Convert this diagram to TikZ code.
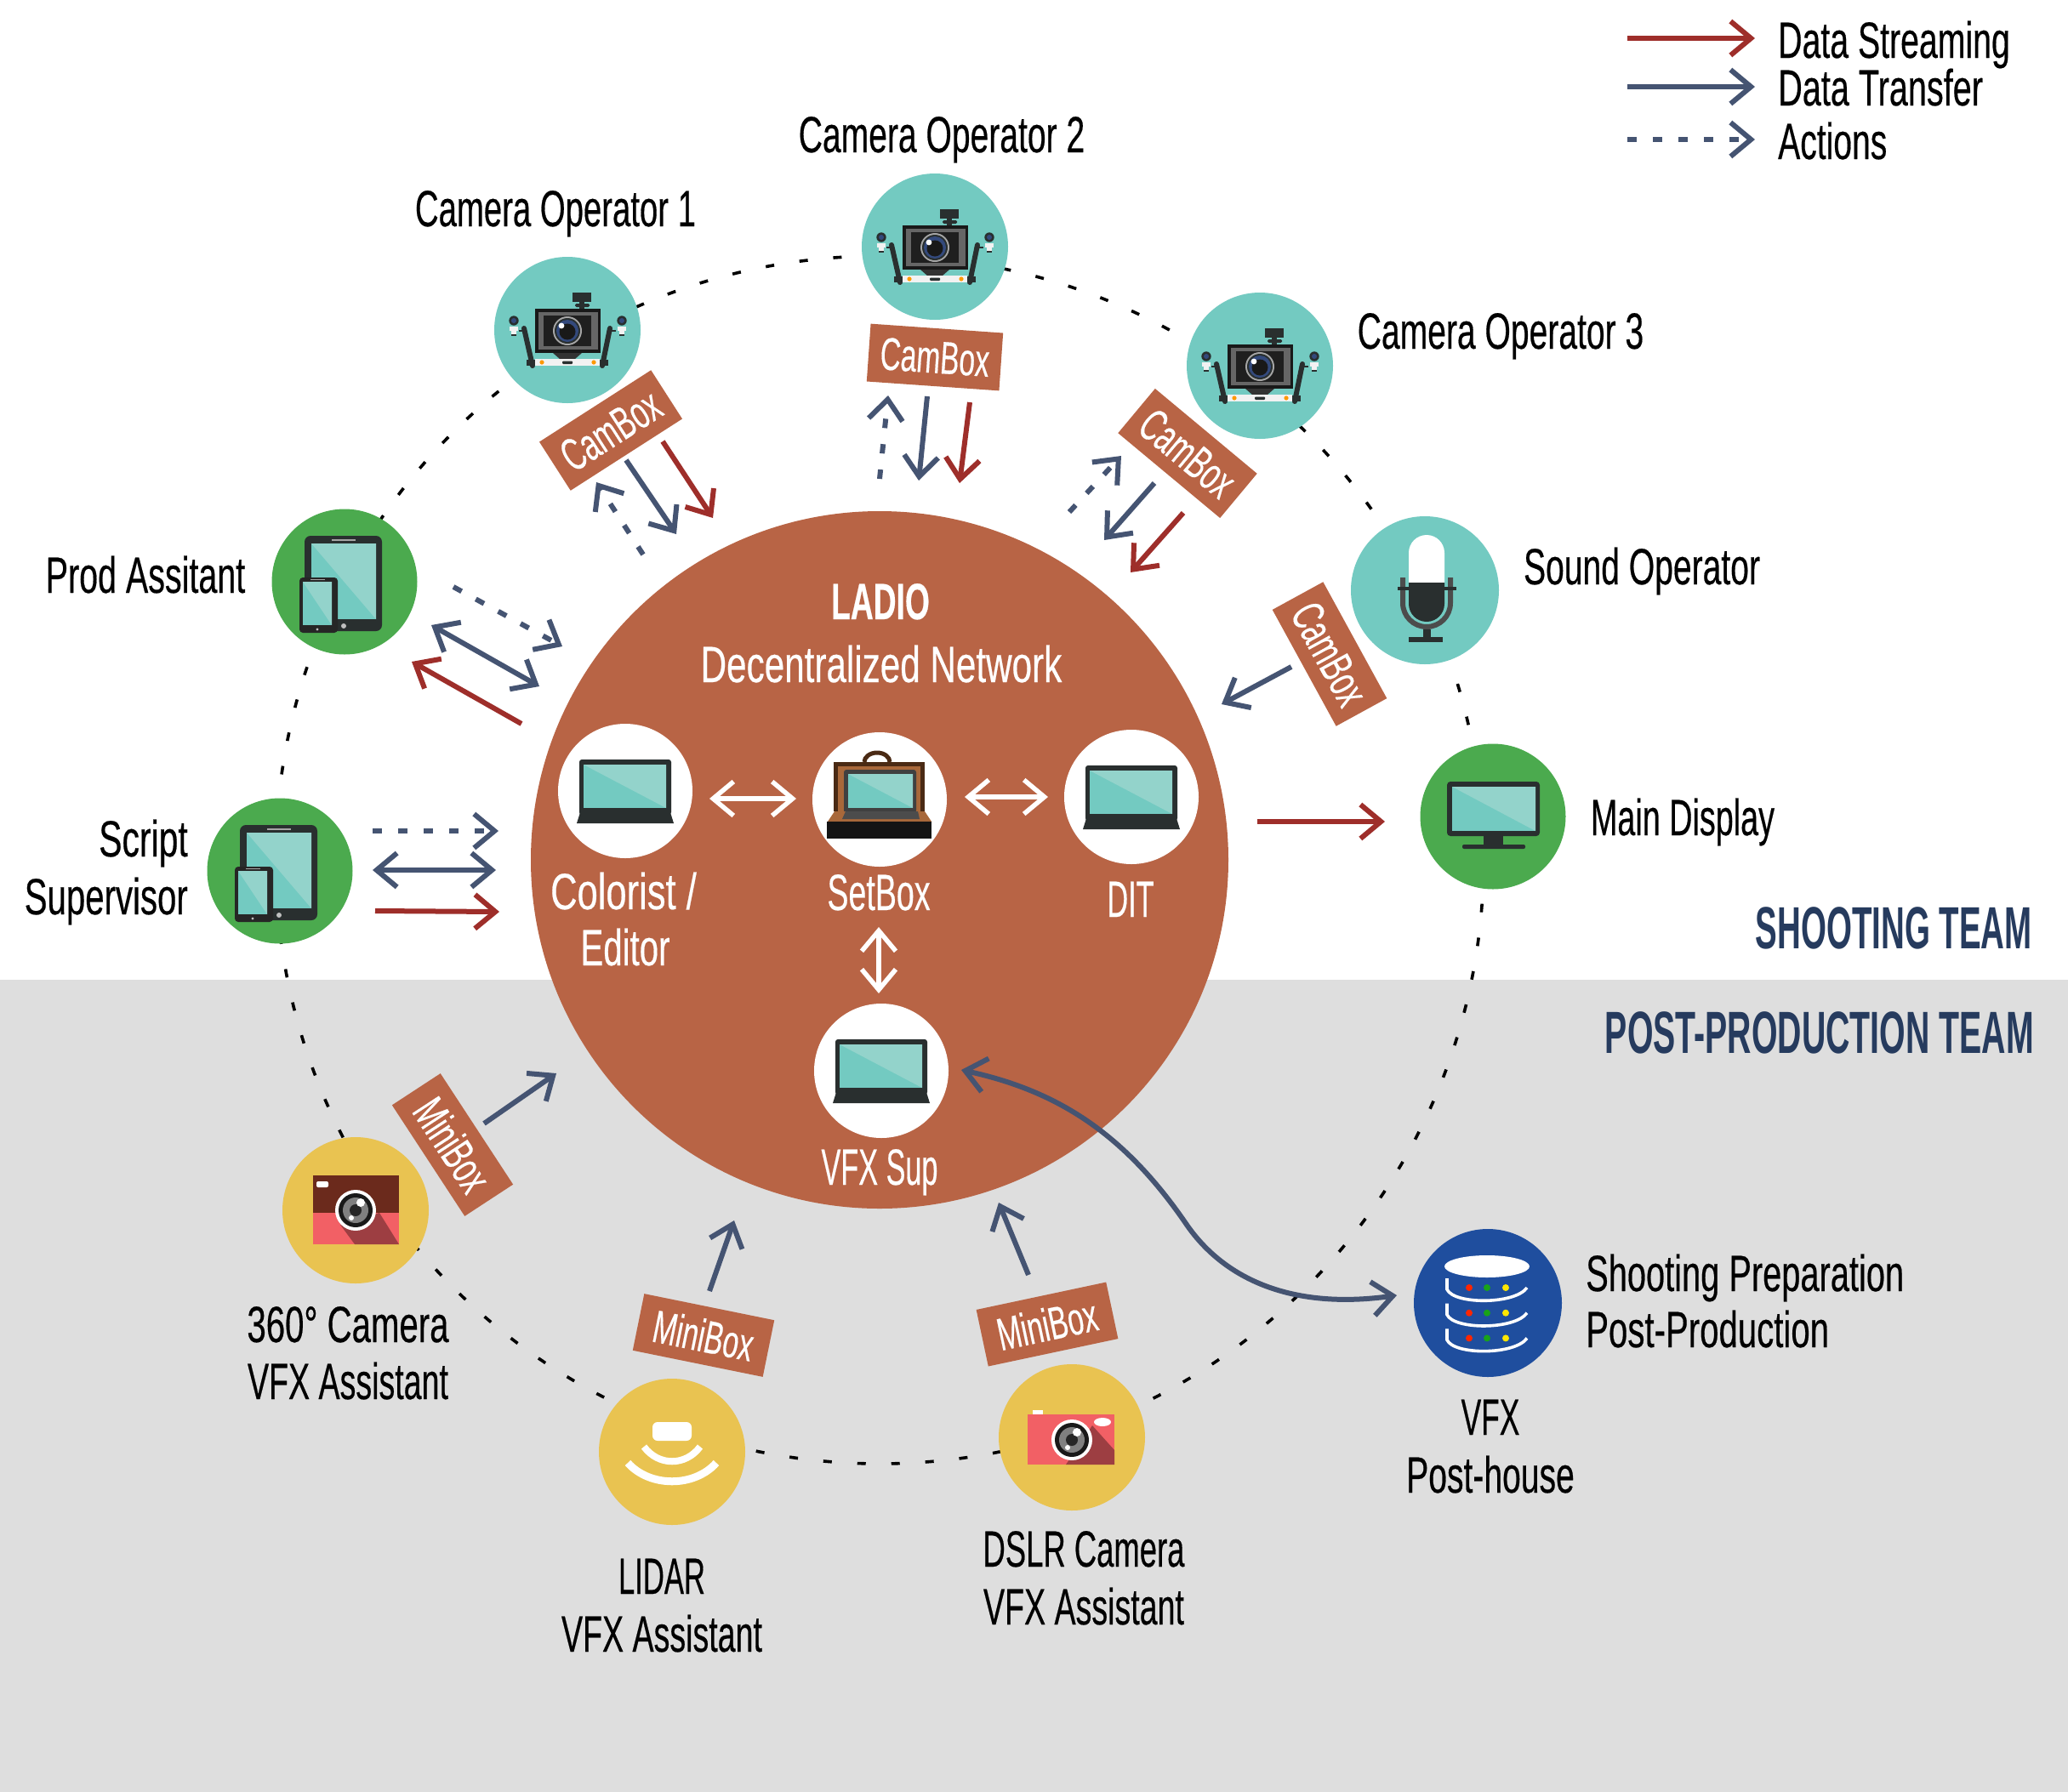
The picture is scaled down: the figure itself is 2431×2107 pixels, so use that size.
\documentclass[tikz,border=0pt]{standalone}
\usepackage{fontspec}
\usetikzlibrary{arrows.meta}
\newfontfamily\nf[FakeStretch=0.62,FakeBold=0.3]{Liberation Sans}
\newfontfamily\hf[FakeStretch=0.55]{Liberation Sans}
\newcommand{\sxx}[2]{\scalebox{#1}[1]{#2}}
\definecolor{terra}{HTML}{B86445}
\definecolor{band}{HTML}{DEDEDE}
\definecolor{tealc}{HTML}{73CAC1}
\definecolor{lite}{HTML}{93D3CB}
\definecolor{grn}{HTML}{4BAA4E}
\definecolor{yel}{HTML}{E9C351}
\definecolor{blu}{HTML}{1F4E9E}
\definecolor{ink}{HTML}{292F2F}
\definecolor{redl}{HTML}{9E2E2A}
\definecolor{bluel}{HTML}{455472}
\definecolor{head}{HTML}{263B5E}
\definecolor{pinkc}{HTML}{F26065}
\definecolor{maroon}{HTML}{6B2A1C}
\definecolor{lensb}{HTML}{33497C}
\definecolor{framec}{HTML}{4A2A14}
\definecolor{casec}{HTML}{A8683A}
\pgfdeclarelayer{under}
\pgfsetlayers{under,main}
\newcommand{\conn}[4]{\coordinate (#2s) at (#3); \coordinate (#2e) at (#4); \draw[#1] (#2s) -- (#2e);}
\tikzset{
  disc/.style={circle,inner sep=0pt,outer sep=0pt,minimum size=#1},
  lab/.style={font=\nf\fontsize{60}{60}\selectfont,inner sep=0pt,anchor=base,text=black},
  wlab/.style={lab,text=white},
  boxl/.style={fill=terra,text=white,font=\nf\fontsize{54}{54}\selectfont,minimum width=156pt,minimum height=68pt,inner sep=0pt,outer sep=0pt},
  ring/.style={line width=3.6pt,black,dash pattern=on 10pt off 30pt},
  stream/.style={line width=6pt,redl,->},
  trans/.style={line width=6pt,bluel,->},
  act/.style={line width=6pt,bluel,->,dash pattern=on 11pt off 19pt},
  both/.style={line width=6pt,bluel,<->},
  wboth/.style={line width=5.5pt,white,<->},
  pics/laptop/.style={code={
    \fill[ink,rounded corners=3pt] (-54,-37) rectangle (54,28);
    \fill[ink] (-52,22) -- (-57,38) -- (57,38) -- (52,22) -- cycle;
    \fill[tealc] (-49,-31) rectangle (48,20);
    \fill[lite] (-49,-31) -- (48,-31) -- (48,20) -- cycle;
  }},
  pics/tablet/.style={code={
    \fill[ink,rounded corners=7pt] (-47,-54) rectangle (44,58);
    \fill[tealc] (-39,-45) rectangle (37,44);
    \fill[lite] (-39,-45) -- (37,-45) -- (37,44) -- cycle;
    \fill[gray!70] (-15,-50) rectangle (13,-48);
    \fill[gray!50] (-1,52) circle[radius=3pt];
    \fill[black!85,rounded corners=4pt] (-53,-5) rectangle (-8,60);
    \fill[tealc] (-49,0) rectangle (-15,51);
    \fill[lite] (-49,0) -- (-15,0) -- (-15,51) -- cycle;
    \fill[gray!70] (-40,-3) rectangle (-23,-2);
    \fill[gray!50] (-32,56) circle[radius=1.7pt];
  }},
  pics/monitor/.style={code={
    \fill[ink,rounded corners=4pt] (-54,-41) rectangle (55,23);
    \fill[tealc] (-48,-35) rectangle (50,17);
    \fill[lite] (-48,-35) -- (50,-35) -- (50,17) -- cycle;
    \fill[ink] (-11,23) rectangle (12,34);
    \fill[ink,rounded corners=2pt] (-36,33) rectangle (38,38);
  }},
  pics/mic/.style={code={
    \fill[white] (-19,-9) -- (-19,-44) arc[start angle=180,end angle=0,radius=21pt] -- (23,-9) -- cycle;
    \fill[ink] (-19,-9) -- (23,-9) -- (23,16) arc[start angle=0,end angle=-180,radius=21pt] -- (-19,-9) -- cycle;
    \draw[line width=6pt,black!70] (-26,-15) -- (-26,15) arc[start angle=180,end angle=360,radius=28pt] -- (30,-15);
    \fill[ink] (-32,-4) rectangle (37,0);
    \fill[ink] (-2,46) rectangle (7,61);
    \fill[ink] (-19,55) rectangle (21,61);
  }},
  pics/rig/.style={code={
    \fill[ink] (6,-44) rectangle (28,-33);
    \fill[ink,rounded corners=1.5pt] (9,-31) rectangle (26,-27);
    \fill[ink] (14,-33) rectangle (20,-25);
    \draw[ink,line width=6pt,line cap=round] (-51,-2) -- (-41,42);
    \draw[ink,line width=6pt,line cap=round] (50,-2) -- (41,42);
    \fill[ink] (-57,0) rectangle (-50,2);
    \fill[ink] (50,0) rectangle (57,2);
    \fill[black!90] (-38,-25) rectangle (39,27);
    \fill[black!60] (-34,-21) rectangle (36,23);
    \fill[black!88] (-28,-17) rectangle (28,19);
    \fill[black!80] (-17,27) -- (17,27) -- (9,34) -- (-9,34) -- cycle;
    \fill[gray!70] (0,1) circle[radius=17pt];
    \fill[ink] (0,1) circle[radius=15pt];
    \fill[lensb] (0,1) circle[radius=13pt];
    \fill[black!90] (0,2) circle[radius=9.5pt];
    \fill[white] (-7,-5) circle[radius=3.4pt];
    \fill[gray!10] (-38,34) rectangle (38,42);
    \fill[orange!80!yellow] (-30,38) circle[radius=2.6pt];
    \fill[orange!80!yellow] (31,38) circle[radius=2.6pt];
    \fill[ink,rounded corners=1pt] (-6,36.5) rectangle (6,40);
    \fill[ink] (-48,35) rectangle (-38,42);
    \fill[ink] (38,35) rectangle (48,42);
    \foreach \sx in {-63,64}{
      \fill[ink] (\sx,-11) circle[radius=5.7pt];
      \fill[lensb] (\sx,-11) circle[radius=3pt];
      \fill[gray!10] (\sx-5,-4) rectangle (\sx+5,1);
      \fill[gray!10] (\sx-3,1) rectangle (\sx+3,5);
      \fill[ink] (\sx-3,5) rectangle (\sx+3,7);
    }
  }},
  pics/casebox/.style={code={
    \draw[framec,line width=5pt] (-18,-44) arc[start angle=180,end angle=0,x radius=15pt,y radius=11pt];
    \fill[framec] (-54,-44) rectangle (53,14);
    \fill[casec] (-49,-39) rectangle (48,14);
    \fill[black!75,rounded corners=3pt] (-42,-35) rectangle (43,16);
    \fill[tealc] (-37,-30) rectangle (39,10);
    \fill[lite] (-37,-30) -- (39,-30) -- (39,10) -- cycle;
    \fill[casec] (-53,14) -- (-61,26) -- (61,26) -- (53,14) -- cycle;
    \fill[black!70] (-40,14) -- (45,14) -- (47,23) -- (-44,23) -- cycle;
    \fill[black!92] (-62,26) rectangle (61,46);
  }},
  pics/lens/.style={code={
    \fill[white] (0,0) circle[radius=24pt];
    \fill[black!90] (0,0) circle[radius=20pt];
    \fill[gray] (0,0) circle[radius=15pt];
    \fill[black!85] (0,0) circle[radius=7pt];
    \fill[white] (6,-9) circle[radius=5pt];
    \fill[white] (-5,9) circle[radius=3pt];
  }},
  pics/cam360/.style={code={
    \fill[pinkc] (-50,-41) rectangle (51,40);
    \fill[maroon] (-50,-41) rectangle (51,3);
    \fill[pinkc!65!black] (28,3) -- (51,40) -- (-1,40) -- (-18,17) -- cycle;
    \fill[white,rounded corners=2pt] (-46,-34) rectangle (-32,-27);
    \pic at (0,0) {lens};
  }},
  pics/dslr/.style={code={
    \fill[pinkc] (-52,-27) rectangle (50,32);
    \fill[pinkc!65!black] (24,-14) -- (50,15) -- (50,32) -- (-7,32) -- cycle;
    \fill[white] (-46,-32) rectangle (-34,-27);
    \fill[white] (36,-18) circle[x radius=10pt,y radius=5pt];
    \pic at (0,3) {lens};
  }},
  pics/lidarw/.style={code={
    \fill[white,rounded corners=6pt] (-23,-35) rectangle (23,-13);
    \draw[white,line width=8pt] (-33,-6) .. controls (-16,17) and (16,17) .. (33,-6);
    \draw[white,line width=9pt] (-52,13) .. controls (-26,42) and (26,42) .. (52,13);
  }},
  pics/server/.style={code={
    \fill[white] (-1,-43) circle[x radius=50pt,y radius=13pt];
    \foreach \dy in {0,29.7,59.4}{
      \draw[white,line width=3.6pt] (-48,-29+\dy) -- (-48,-16+\dy) .. controls (-40,2+\dy) and (32,2+\dy) .. (46,-18+\dy);
      \fill[red!70!orange] (-22,-18+\dy) circle[radius=4pt];
      \fill[green!60!black!90] (-1,-18+\dy) circle[radius=4pt];
      \fill[yellow!90!orange] (21,-18+\dy) circle[radius=4pt];
    }
  }},
}
\begin{document}
\begin{tikzpicture}[x=1pt,y=-1pt,>={Straight Barb[length=24pt,width=40pt]}]
\useasboundingbox (0,0) rectangle (2431,2107);

% main disc and people
\node[disc=820pt,fill=terra] (net) at (1034,1011) {};
\node[disc=172pt,fill=tealc] (cam1) at (667,388) {};
\node[disc=172pt,fill=tealc] (cam2) at (1099,290) {};
\node[disc=172pt,fill=tealc] (cam3) at (1481,430) {};
\node[disc=174pt,fill=tealc] (sound) at (1675,694) {};
\node[disc=171pt,fill=grn] (disp) at (1755,960) {};
\node[disc=171pt,fill=grn] (prod) at (405,684) {};
\node[disc=171pt,fill=grn] (script) at (329,1024) {};
\node[disc=172pt,fill=yel] (c360) at (418,1423) {};
\node[disc=172pt,fill=yel] (lidar) at (790,1707) {};
\node[disc=172pt,fill=yel] (dslr) at (1260,1690) {};
\node[disc=174pt,fill=blu] (post) at (1749,1532) {};
\node[disc=158pt,fill=white] (color) at (735,930) {};
\node[disc=158pt,fill=white] (setbox) at (1034,940) {};
\node[disc=158pt,fill=white] (dit) at (1330,937) {};
\node[disc=158pt,fill=white] (vfx) at (1036,1259) {};

% background and dashed ring, beneath the discs
\begin{pgfonlayer}{under}
\fill[white] (0,0) rectangle (2431,2107);
\fill[band] (0,1152) rectangle (2431,2107);
\draw[ring] (net.center) circle[radius=710pt];
\end{pgfonlayer}

% icons
\pic at (cam1) {rig};
\pic at (cam2) {rig};
\pic at (cam3) {rig};
\pic at (sound) {mic};
\pic at (disp) {monitor};
\pic at (prod) {tablet};
\pic at (script) {tablet};
\pic at (c360) {cam360};
\pic at (lidar) {lidarw};
\pic at (dslr) {dslr};
\pic at (post) {server};
\pic at (color) {laptop};
\pic at (setbox) {casebox};
\pic at (dit) {laptop};
\pic at (vfx) {laptop};

% boxes
\node[boxl,rotate=32.7] (box1) at (718,506) {CamBox};
\node[boxl,rotate=-4] (box2) at (1099,420) {CamBox};
\node[boxl,rotate=-39.8] (box3) at (1396,533) {CamBox};
\node[boxl,rotate=-61.3] (box4) at (1563,769) {CamBox};
\node[boxl,rotate=-56.8] (mini1) at (532,1346) {MiniBox};
\node[boxl,rotate=-11.5] (mini2) at (827,1570) {MiniBox};
\node[boxl,rotate=12] (mini3) at (1231,1557) {MiniBox};

% arrows
\conn{stream}{a1}{779,519}{838,609}
\conn{trans}{a2}{736,541}{795,628}
\conn{act}{a3}{756,652}{701,567}
\conn{stream}{a4}{1140,473}{1128,568}
\conn{trans}{a5}{1090,466}{1080,565}
\conn{act}{a6}{1034,563}{1044,465}
\conn{act}{a7}{1257,602}{1318,536}
\conn{trans}{a8}{1357,568}{1298,635}
\conn{stream}{a9}{1391,603}{1329,673}
\conn{trans}{a10}{1518,784}{1436,828}
\conn{stream}{a11}{1478,966}{1628,966}
\conn{act}{a12}{533,690}{661,760}
\conn{both}{a13}{507,735}{634,807}
\conn{stream}{a14}{613,851}{484,778}
\conn{act}{a15}{438,977}{586,977}
\conn{both}{a16}{438,1023}{583,1023}
\conn{stream}{a17}{441,1071}{587,1072}
\conn{wboth}{a18}{834,939}{936,939}
\conn{wboth}{a19}{1134,937}{1232,937}
\conn{wboth}{a20}{1033,1090}{1033,1168}
\conn{trans}{a21}{569,1321}{654,1262}
\conn{trans}{a22}{834,1518}{863,1435}
\conn{trans}{a23}{1209,1499}{1174,1414}
\coordinate (cva) at (1130,1258);
\coordinate (cvb) at (1642,1523);
\draw[both] (cva) .. controls (1240,1282) and (1320,1330) .. (1395,1440) .. controls (1440,1505) and (1520,1540) .. (cvb);

% legend
\conn{stream}{l1}{1913,45}{2063,45}
\conn{trans}{l2}{1913,102}{2063,102}
\conn{act}{l3}{1913,164}{2063,164}
\node[lab,anchor=base west] (t1) at (2090,68) {\sxx{1.055}{Data Streaming}};
\node[lab,anchor=base west] (t2) at (2090,124) {\sxx{1.065}{Data Transfer}};
\node[lab,anchor=base west] (t3) at (2090,187) {\sxx{1.05}{Actions}};

% labels
\node[lab] (n1) at (653,266) {\sxx{1.03}{Camera Operator 1}};
\node[lab] (n2) at (1107,179) {\sxx{1.05}{Camera Operator 2}};
\node[lab] (n3) at (1764,410) {\sxx{1.05}{Camera Operator 3}};
\node[lab] (n4) at (1930,687) {\sxx{1.05}{Sound Operator}};
\node[lab] (n5) at (1978,982) {\sxx{1.015}{Main Display}};
\node[lab] (n6) at (171,697) {\sxx{1.06}{Prod Assitant}};
\node[lab,anchor=base east] (n7) at (221,1007) {\sxx{1.1}{Script}};
\node[lab,anchor=base east] (n8) at (221,1075) {\sxx{1.08}{Supervisor}};
\node[wlab] (n9) at (733,1069) {\sxx{1.17}{Colorist /}};
\node[wlab] (n10) at (735,1135) {\sxx{1.08}{Editor}};
\node[wlab] (n11) at (1033,1070) {\sxx{1.01}{SetBox}};
\node[wlab] (n12) at (1329,1078) {\sxx{0.92}{DIT}};
\node[wlab] (n13) at (1034,1393) {\sxx{0.92}{VFX Sup}};
\node[lab] (n14) at (409,1578) {\sxx{1.08}{360° Camera}};
\node[lab] (n15) at (409,1645) {\sxx{1.01}{VFX Assistant}};
\node[lab] (n16) at (778,1874) {\sxx{0.93}{LIDAR}};
\node[lab] (n17) at (778,1942) {\sxx{1.01}{VFX Assistant}};
\node[lab] (n18) at (1274,1842) {\sxx{0.98}{DSLR Camera}};
\node[lab] (n19) at (1274,1910) {\sxx{1.01}{VFX Assistant}};
\node[lab] (n20) at (1752,1687) {\sxx{0.95}{VFX}};
\node[lab] (n21) at (1752,1755) {\sxx{1.05}{Post-house}};
\node[lab,anchor=base west] (n22) at (1864,1518) {\sxx{1.07}{Shooting Preparation}};
\node[lab,anchor=base west] (n23) at (1864,1584) {\sxx{1.08}{Post-Production}};
\node[wlab,font=\nf\bfseries\fontsize{60}{60}\selectfont] (n24) at (1035,728) {LADIO};
\node[wlab] (n25) at (1036,802) {\sxx{1.135}{Decentralized Network}};
\node[lab,anchor=base east,text=head,font=\hf\bfseries\fontsize{70}{70}\selectfont] (n26) at (2389,1115) {SHOOTING TEAM};
\node[lab,anchor=base east,text=head,font=\hf\bfseries\fontsize{70}{70}\selectfont] (n27) at (2391,1238) {\sxx{1.02}{POST-PRODUCTION TEAM}};
\end{tikzpicture}
\end{document}
